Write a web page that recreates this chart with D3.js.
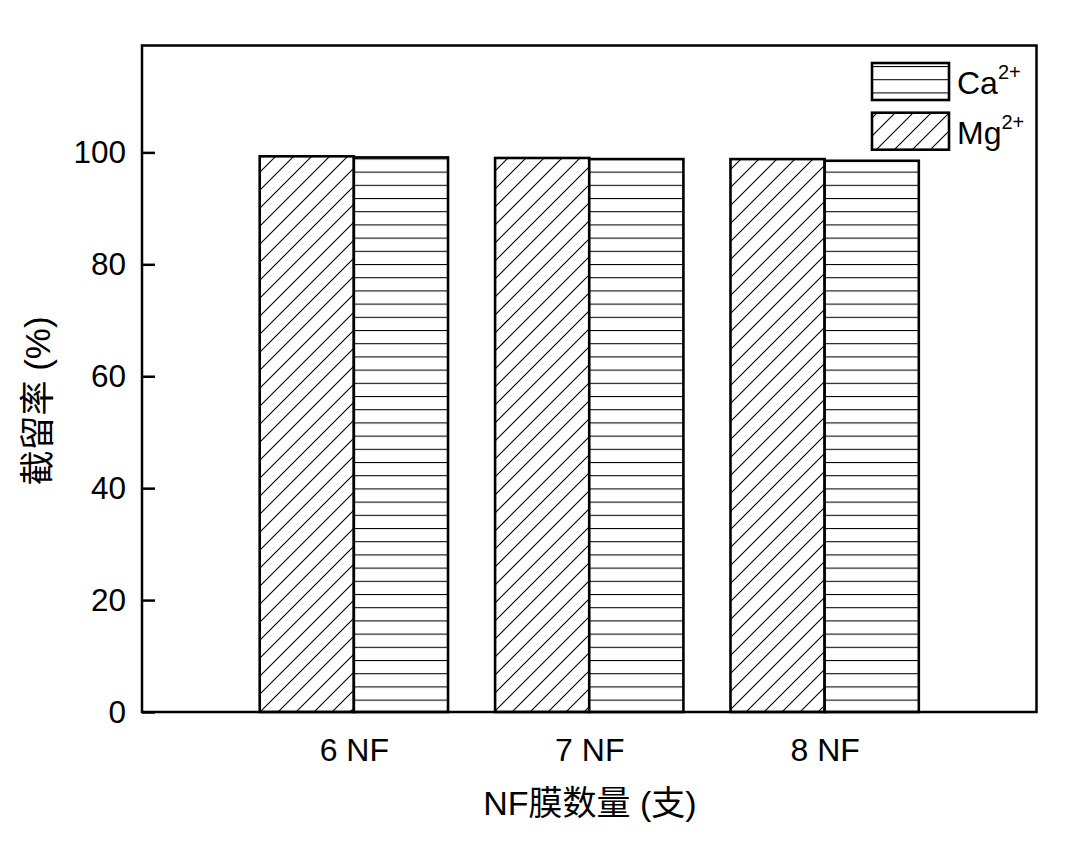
<!DOCTYPE html>
<html><head><meta charset="utf-8">
<script src="https://cdn.jsdelivr.net/npm/d3@7"></script>
<style>body{margin:0;background:#fff}</style>
</head><body>
<script>
const categories = ["6 NF", "7 NF", "8 NF"];
const mgValues = [99.3, 99.0, 98.8];
const caValues = [99.1, 98.8, 98.5];
const yTicks = [0, 20, 40, 60, 80, 100];

const W = 1088, H = 848;
const L = 142, R = 1036.5, T = 45.5, B = 712;
const svg = d3.select("body").append("svg").attr("width", W).attr("height", H);
const defs = svg.append("defs");
const diag = defs.append("pattern").attr("id","diag").attr("patternUnits","userSpaceOnUse")
  .attr("width",18).attr("height",18);
diag.append("rect").attr("width",18).attr("height",18).attr("fill","#fff");
diag.append("path").attr("d","M-4.5,4.5 L4.5,-4.5 M0,18 L18,0 M13.5,22.5 L22.5,13.5")
  .attr("stroke","#000").attr("stroke-width",1.1);
const horiz = defs.append("pattern").attr("id","horiz").attr("patternUnits","userSpaceOnUse")
  .attr("width",20).attr("height",13.2).attr("y", 0);
horiz.append("rect").attr("width",20).attr("height",13.2).attr("fill","#fff");
horiz.append("line").attr("x1",0).attr("x2",20).attr("y1",0.5).attr("y2",0.5)
  .attr("stroke","#000").attr("stroke-width",1.1);

const x = d3.scaleLinear().domain([0.1, 3.9]).range([L, R]);
const y = d3.scaleLinear().domain([0, 119.1]).range([B, T]);
const bw = x(1.4) - x(1);

const g = svg.append("g");
categories.forEach((c, i) => {
  const cx = x(i + 1);
  g.append("rect").attr("x", cx - bw).attr("y", y(mgValues[i])).attr("width", bw)
    .attr("height", y(0) - y(mgValues[i])).attr("fill","url(#diag)").attr("stroke","#000").attr("stroke-width",2.6);
  g.append("rect").attr("x", cx).attr("y", y(caValues[i])).attr("width", bw)
    .attr("height", y(0) - y(caValues[i])).attr("fill","url(#horiz)").attr("stroke","#000").attr("stroke-width",2.6);
});

// frame
svg.append("rect").attr("x", L).attr("y", T).attr("width", R - L).attr("height", B - T)
  .attr("fill","none").attr("stroke","#000").attr("stroke-width",2.5);

// y axis
const yAxis = d3.axisLeft(y).tickValues(yTicks).tickSize(-13).tickPadding(30);
const ya = svg.append("g").attr("transform",`translate(${L},0)`).call(yAxis);
ya.select(".domain").remove();
ya.selectAll(".tick line").attr("stroke","#000").attr("stroke-width",2.5);
ya.selectAll(".tick text").attr("font-family","'Liberation Sans', Arial, sans-serif")
  .attr("font-size",31.5).attr("fill","#000").attr("dx", 14);

// x axis labels
const xAxis = d3.axisBottom(x).tickValues([1,2,3]).tickFormat((d,i)=>categories[i]).tickSize(0).tickPadding(26);
const xa = svg.append("g").attr("transform",`translate(0,${B})`).call(xAxis);
xa.select(".domain").remove();
xa.selectAll(".tick text").attr("font-family","'Liberation Sans', Arial, sans-serif")
  .attr("font-size",32).attr("fill","#000");

// axis titles
svg.append("text").attr("x", 590).attr("y", 815).attr("text-anchor","middle")
  .attr("font-family","'Liberation Sans', 'Noto Sans CJK SC', sans-serif").attr("font-size",34).attr("fill","#000")
  .text("NF膜数量 (支)");
svg.append("text").attr("transform","translate(50,401) rotate(-90)").attr("text-anchor","middle")
  .attr("font-family","'Liberation Sans', 'Noto Sans CJK SC', sans-serif").attr("font-size",35).attr("fill","#000")
  .text("截留率 (%)");

// legend
const legend = [{name:"Ca", fill:"url(#horiz)", y:63}, {name:"Mg", fill:"url(#diag)", y:112.7}];
legend.forEach(d => {
  svg.append("rect").attr("x",872).attr("y",d.y).attr("width",77).attr("height",37)
    .attr("fill",d.fill).attr("stroke","#000").attr("stroke-width",2.6);
  const t = svg.append("text").attr("x",957).attr("y",d.y+31)
    .attr("font-family","'Liberation Sans', Arial, sans-serif").attr("font-size",32).attr("fill","#000");
  t.append("tspan").text(d.name);
  t.append("tspan").attr("font-size",20).attr("dy",-15).text("2+");
});
</script>
</body></html>
